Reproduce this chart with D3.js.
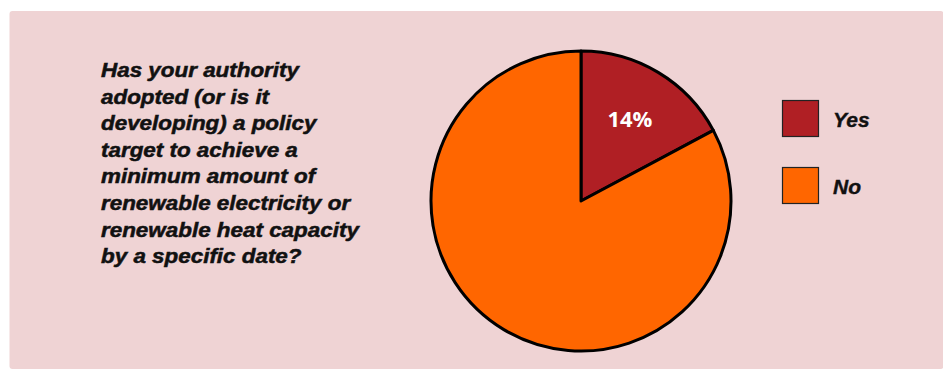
<!DOCTYPE html>
<html>
<head>
<meta charset="utf-8">
<script src="https://cdn.jsdelivr.net/npm/d3@7"></script>
<style>
  body { margin: 0; background: #fff; }
</style>
</head>
<body>
<div id="chart"></div>
<script>
const width = 943;
const height = 369;

// slice sizes as drawn (angle), labels as printed
const categories = ['Yes', 'No'];
const sliceValues = [17.2, 82.8];
const sliceLabels = ['14%', ''];
const colors = ['#b01f24', '#ff6600'];
const questionLines = [
  'Has your authority',
  'adopted (or is it',
  'developing) a policy',
  'target to achieve a',
  'minimum amount of',
  'renewable electricity or',
  'renewable heat capacity',
  'by a specific date?'
];

const svg = d3.select('#chart').append('svg')
  .attr('width', width)
  .attr('height', height);

// pink panel
svg.append('rect')
  .attr('x', 9.5)
  .attr('y', 11)
  .attr('width', 934)
  .attr('height', 358)
  .attr('rx', 3)
  .attr('fill', '#efd3d4');

// question text (the original face is wider and heavier than Arial)
svg.append('text')
  .attr('transform', 'translate(101,77) scale(1.15,1)')
  .style('font-family', '"Liberation Sans", Arial, sans-serif')
  .style('font-weight', 'bold')
  .style('font-style', 'italic')
  .style('font-size', '19.5px')
  .attr('fill', '#111')
  .attr('stroke', '#111')
  .attr('stroke-width', 0.5)
  .selectAll('tspan')
  .data(questionLines)
  .join('tspan')
  .attr('x', 0)
  .attr('dy', (d, i) => i === 0 ? 0 : 26.6)
  .text(d => d);

// pie
const cx = 581, cy = 201, r = 150;
const pie = d3.pie().sort(null).value(d => d);
const arcs = pie(sliceValues);
const arc = d3.arc().innerRadius(0).outerRadius(r);
const labelArc = d3.arc().innerRadius(95).outerRadius(95);

const g = svg.append('g').attr('transform', `translate(${cx},${cy})`);

g.selectAll('path')
  .data(arcs)
  .join('path')
  .attr('d', arc)
  .attr('fill', (d, i) => colors[i])
  .attr('stroke', '#000')
  .attr('stroke-width', 3)
  .attr('stroke-linejoin', 'round');

g.selectAll('text.lbl')
  .data(arcs)
  .join('text')
  .attr('class', 'lbl')
  .attr('transform', d => `translate(${labelArc.centroid(d)})`)
  .attr('text-anchor', 'middle')
  .attr('dy', '0.36em')
  .style('font-family', '"Open Sans", "Noto Sans", sans-serif')
  .style('font-weight', 'bold')
  .style('font-size', '22px')
  .attr('fill', '#fff')
  .text((d, i) => sliceLabels[i]);

// legend
const legend = svg.append('g').attr('transform', 'translate(782,100)');
const item = legend.selectAll('g')
  .data(categories)
  .join('g')
  .attr('transform', (d, i) => `translate(0,${i * 67})`);

item.append('rect')
  .attr('x', 0.5)
  .attr('y', 0.5)
  .attr('width', 36)
  .attr('height', 36)
  .attr('fill', (d, i) => colors[i])
  .attr('stroke', '#222')
  .attr('stroke-width', 1.2);

item.append('text')
  .attr('x', 51)
  .attr('y', 27)
  .style('font-family', '"Liberation Sans", Arial, sans-serif')
  .style('font-weight', 'bold')
  .style('font-style', 'italic')
  .style('font-size', '21px')
  .attr('fill', '#111')
  .attr('stroke', '#111')
  .attr('stroke-width', 0.4)
  .text(d => d);
</script>
</body>
</html>
